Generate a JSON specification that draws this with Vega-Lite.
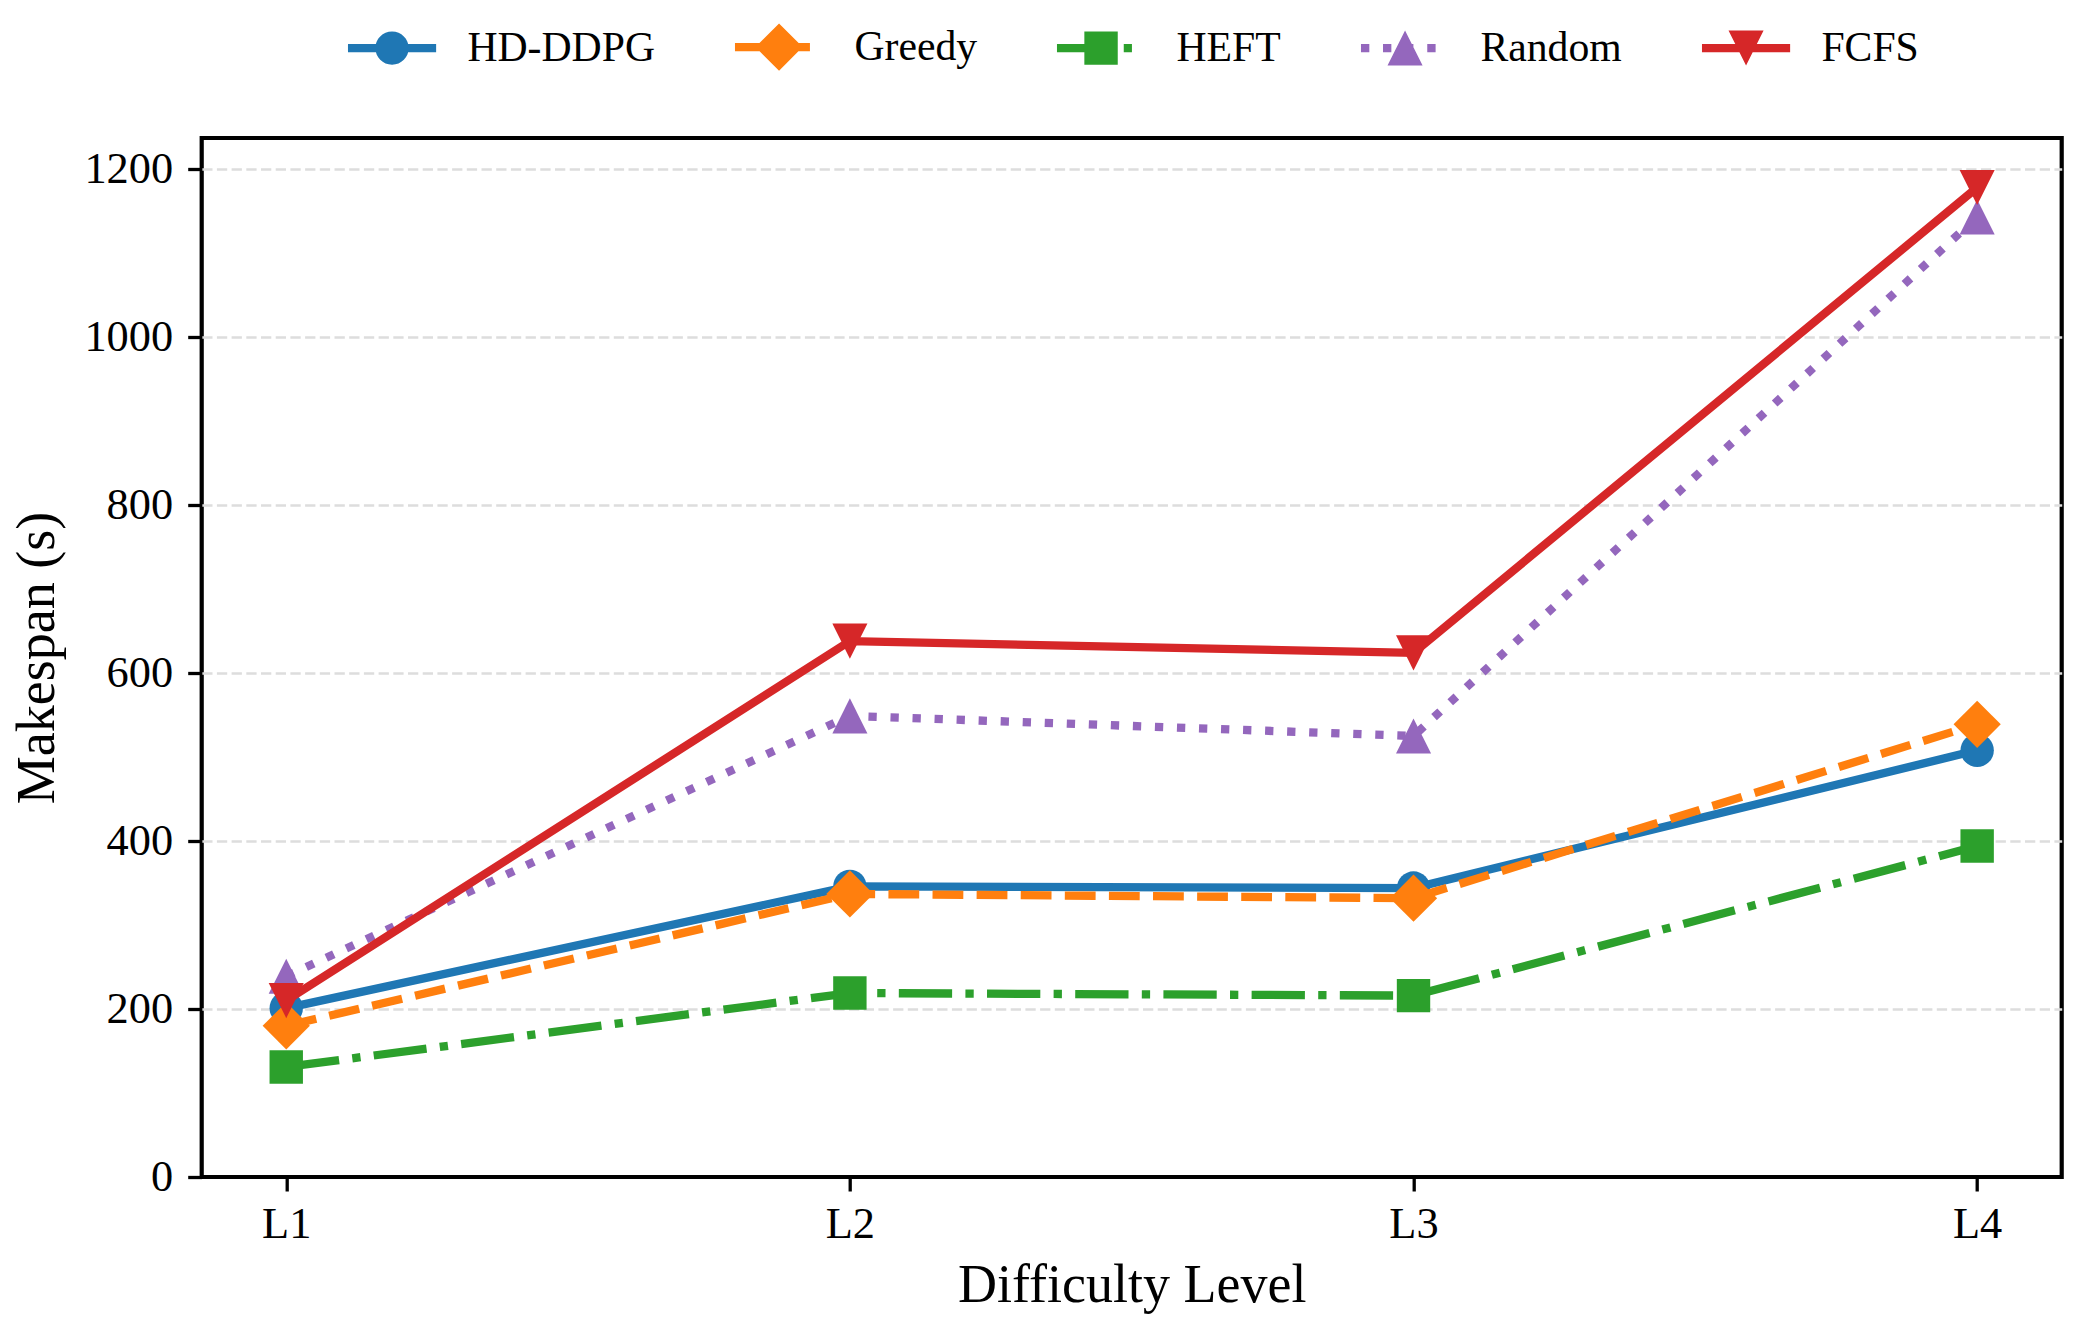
{
  "$schema": "https://vega.github.io/schema/vega-lite/v6.json",
  "autosize": {"type": "none"},
  "padding": {"left": 201.7, "top": 138, "right": 15.3, "bottom": 153},
  "width": 1860,
  "height": 1039,
  "background": "white",
  "data": {"values": [
    {"level": "L1", "method": "HD-DDPG", "value": 201},
    {"level": "L2", "method": "HD-DDPG", "value": 346},
    {"level": "L3", "method": "HD-DDPG", "value": 344},
    {"level": "L4", "method": "HD-DDPG", "value": 508},
    {"level": "L1", "method": "Greedy", "value": 180},
    {"level": "L2", "method": "Greedy", "value": 337},
    {"level": "L3", "method": "Greedy", "value": 332},
    {"level": "L4", "method": "Greedy", "value": 539},
    {"level": "L1", "method": "HEFT", "value": 131},
    {"level": "L2", "method": "HEFT", "value": 219},
    {"level": "L3", "method": "HEFT", "value": 216},
    {"level": "L4", "method": "HEFT", "value": 394},
    {"level": "L1", "method": "Random", "value": 239},
    {"level": "L2", "method": "Random", "value": 549},
    {"level": "L3", "method": "Random", "value": 525},
    {"level": "L4", "method": "Random", "value": 1143},
    {"level": "L1", "method": "FCFS", "value": 210},
    {"level": "L2", "method": "FCFS", "value": 638},
    {"level": "L3", "method": "FCFS", "value": 624},
    {"level": "L4", "method": "FCFS", "value": 1178}
  ]},
  "encoding": {
    "x": {
      "field": "level", "type": "ordinal",
      "scale": {"type": "point", "padding": 0.15},
      "axis": {"title": "Difficulty Level", "labelAngle": 0, "grid": false, "labelPadding": 11, "titlePadding": 13}
    },
    "y": {
      "field": "value", "type": "quantitative",
      "scale": {"domain": [0, 1237], "nice": false, "zero": true},
      "axis": {
        "title": "Makespan (s)", "values": [0, 200, 400, 600, 800, 1000, 1200], "format": "d", "grid": true,
        "gridOpacity": {"condition": {"test": "datum.value === 0", "value": 0}, "value": 1},
        "labelPadding": 15, "titlePadding": 19
      }
    },
    "color": {
      "field": "method", "type": "nominal",
      "scale": {"domain": ["HD-DDPG", "Greedy", "HEFT", "Random", "FCFS"], "range": ["#1f77b4", "#ff7f0e", "#2ca02c", "#9467bd", "#d62728"]},
      "legend": {
        "title": null,
        "orient": "none",
        "direction": "horizontal",
        "legendX": 169.5,
        "legendY": -112,
        "labelFont": "Liberation Serif",
        "labelFontSize": 41.7,
        "labelColor": "black",
        "labelOffset": 54.5,
        "columnPadding": 79,
        "symbolSize": 1115,
        "labelLimit": 400,
        "encode": {
          "symbols": {
            "update": {
              "shape": {"signal": "datum.value === 'HD-DDPG' ? 'M-2.64,-0.25H2.64V0.25H-2.64Z M1,0A1,1 0 1,1 -1,0A1,1 0 1,1 1,0Z' : datum.value === 'Greedy' ? 'M-2.64,-0.25H-0.79V0.25H-2.64Z M0.01,-0.25H1.85V0.25H0.01Z M0,-1.414L1.414,0L0,1.414L-1.414,0Z' : datum.value === 'HEFT' ? 'M-2.64,-0.25H0.56V0.25H-2.64Z M1.36,-0.25H1.85V0.25H1.36Z M-1,-1H1V1H-1Z' : datum.value === 'Random' ? 'M-2.64,-0.25H-2.14V0.25H-2.64Z M-1.32,-0.25H-0.82V0.25H-1.32Z M0.01,-0.25H0.5V0.25H0.01Z M1.33,-0.25H1.83V0.25H1.33Z M0,-1.05L1.05,1.05L-1.05,1.05Z' : 'M-2.64,-0.25H2.64V0.25H-2.64Z M0,1.05L-1.05,-1.05L1.05,-1.05Z'"},
              "fill": {"scale": "color", "field": "value"},
              "stroke": {"value": "transparent"},
              "strokeWidth": {"value": 0},
              "strokeDash": {"value": []},
              "size": {"value": 1115},
              "opacity": {"value": 1},
              "fillOpacity": {"value": 1}
            }
          }
        }
      }
    }
  },
  "layer": [
    {
      "transform": [{"filter": "datum.method === 'HD-DDPG'"}],
      "mark": {"type": "line", "strokeWidth": 8.3, "point": {"filled": true, "shape": "circle", "size": 1115, "opacity": 1}}
    },
    {
      "transform": [{"filter": "datum.method === 'Greedy'"}],
      "mark": {"type": "line", "strokeWidth": 8.3, "strokeDash": [30.8, 13.3], "point": {"filled": true, "shape": "M0,-1.414L1.414,0L0,1.414L-1.414,0Z", "size": 1115, "opacity": 1}}
    },
    {
      "transform": [{"filter": "datum.method === 'HEFT'"}],
      "mark": {"type": "line", "strokeWidth": 8.3, "strokeDash": [53.3, 13.3, 8.3, 13.3], "point": {"filled": true, "shape": "square", "size": 1115, "opacity": 1}}
    },
    {
      "transform": [{"filter": "datum.method === 'Random'"}],
      "mark": {"type": "line", "strokeWidth": 8.3, "strokeDash": [8.3, 13.75], "point": {"filled": true, "shape": "M0,-1.05L1.05,1.05L-1.05,1.05Z", "size": 1115, "opacity": 1}}
    },
    {
      "transform": [{"filter": "datum.method === 'FCFS'"}],
      "mark": {"type": "line", "strokeWidth": 8.3, "point": {"filled": true, "shape": "M0,1.05L-1.05,-1.05L1.05,-1.05Z", "size": 1115, "opacity": 1}}
    }
  ],
  "config": {
    "view": {"stroke": "black", "strokeWidth": 4.2},
    "font": "Liberation Serif",
    "axis": {
      "labelFont": "Liberation Serif",
      "labelFontSize": 44.4,
      "labelColor": "black",
      "titleFont": "Liberation Serif",
      "titleFontSize": 54,
      "titleFontWeight": "normal",
      "titleColor": "black",
      "domain": false,
      "ticks": true,
      "tickColor": "black",
      "tickSize": 14,
      "tickWidth": 3.3,
      "gridColor": "#dddddd",
      "gridDash": [10.3, 4.4],
      "gridWidth": 2.5
    },
    "legend": {"symbolStrokeWidth": 0}
  }
}
